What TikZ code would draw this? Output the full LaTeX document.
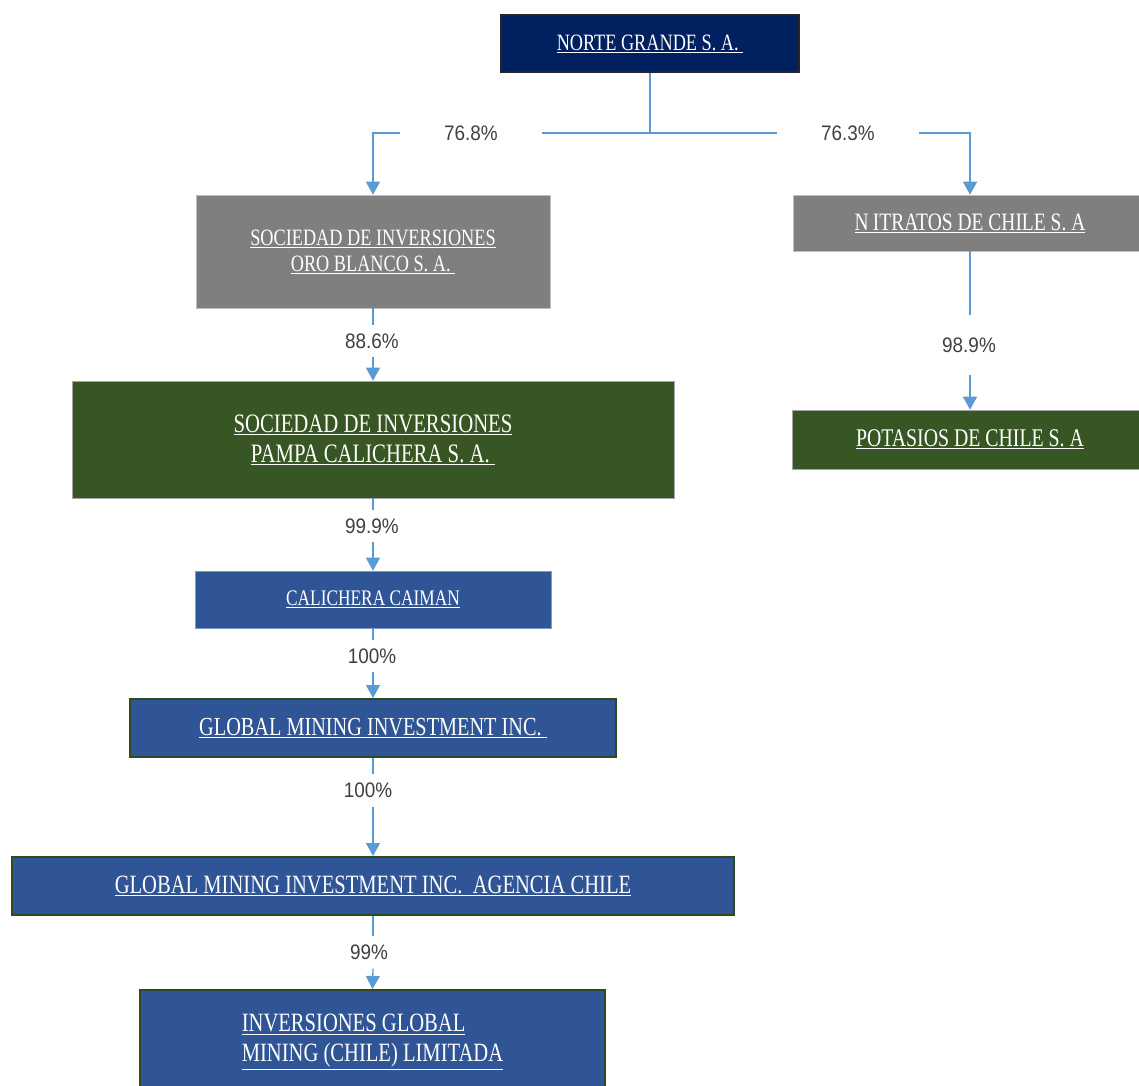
\documentclass[tikz,border=0pt]{standalone}
\usepackage{fontspec}
\usetikzlibrary{arrows.meta}
\newfontfamily\boxfont[FakeStretch=0.78]{Liberation Serif}
\newfontfamily\pctfont[FakeStretch=0.9]{Liberation Sans}
\definecolor{navybox}{HTML}{002060}
\definecolor{graybox}{HTML}{7F7F7F}
\definecolor{greenbox}{HTML}{375623}
\definecolor{bluebox}{HTML}{2F5597}
\definecolor{linkblue}{HTML}{5B9BD5}
\definecolor{pcttext}{HTML}{404040}
\definecolor{darkrim}{HTML}{2E4A1F}
\tikzset{
	firm/.style={rectangle, text=white, inner sep=0pt, align=center},
	pct/.style={font=\pctfont\fontsize{21}{21}\selectfont, text=pcttext, fill=white, inner xsep=44pt, inner ysep=0pt, minimum height=32pt},
	link/.style={draw=linkblue, line width=1.3pt},
	linkarrow/.style={link, -{Triangle[width=14pt,length=13pt]}},
}

\begin{document}
\begin{tikzpicture}[x=1pt, y=-1pt]
			%%%%% START %%%%%
			\useasboundingbox (0, 0) rectangle (1139, 1085);
			
			\node[firm, fill=navybox, draw=black!85, line width=2pt, minimum width=298pt, minimum height=57pt, font=\boxfont\fontsize{23.4}{26}\selectfont] (norte) at (650, 43.5) {\underline{NORTE GRANDE S. A.\ }};
			
			\node[firm, fill=graybox, draw=black!25, line width=0.6pt, minimum width=354pt, minimum height=113pt, font=\boxfont\fontsize{23.4}{26}\selectfont] (oro) at (373, 251.5) {\underline{SOCIEDAD DE INVERSIONES}\\\underline{ORO BLANCO S. A.\ }};
			\node[firm, fill=graybox, draw=black!25, line width=0.6pt, minimum width=354pt, minimum height=56pt, font=\boxfont\fontsize{25}{26}\selectfont] (nitratos) at (970, 223) {\underline{N\,ITRATOS DE CHILE S. A}};
			
			\node[firm, fill=greenbox, draw=black!35, line width=0.6pt, minimum width=602pt, minimum height=117pt, font=\boxfont\fontsize{26.6}{30}\selectfont] (pampa) at (373, 439.5) {\underline{SOCIEDAD DE INVERSIONES}\\\underline{PAMPA CALICHERA S. A.\ }};
			\node[firm, fill=greenbox, draw=black!35, line width=0.6pt, minimum width=356pt, minimum height=59pt, font=\boxfont\fontsize{25.4}{26}\selectfont] (potasios) at (970, 439.5) {\underline{POTASIOS DE CHILE S. A}};
			
			\node[firm, fill=bluebox, draw=bluebox!60!white, line width=0.6pt, minimum width=356pt, minimum height=57pt, font=\boxfont\fontsize{22.2}{26}\selectfont] (calichera) at (373, 599.5) {\underline{CALICHERA CAIMAN}};
			\node[firm, fill=bluebox, draw=darkrim, line width=2pt, minimum width=486pt, minimum height=58pt, font=\boxfont\fontsize{26}{26}\selectfont] (gmi) at (373, 728) {\underline{GLOBAL MINING INVESTMENT INC.\ }};
			\node[firm, fill=bluebox, draw=darkrim, line width=2pt, minimum width=722pt, minimum height=58pt, font=\boxfont\fontsize{26.4}{26}\selectfont] (agencia) at (373, 886) {\underline{GLOBAL MINING INVESTMENT INC.\ \ AGENCIA CHILE}};
			\node[firm, fill=bluebox, draw=darkrim, line width=2pt, minimum width=465pt, minimum height=104pt, align=left, font=\boxfont\fontsize{26.4}{30}\selectfont] (inversiones) at (372.5, 1042) {\underline{INVERSIONES GLOBAL}\\\underline{MINING (CHILE) LIMITADA}};
			
			% percentages
			\node[pct] (l768) at (471, 133) {76.8\%};
			\node[pct] (l763) at (848, 133) {76.3\%};
			\node[pct] (l886) at (372, 341) {88.6\%};
			\node[pct, minimum height=60pt] (l989) at (969, 345) {98.9\%};
			\node[pct] (l999) at (372, 526) {99.9\%};
			\node[pct] (l100a) at (372, 656) {100\%};
			\node[pct] (l100b) at (368, 790.5) {100\%};
			\node[pct] (l99) at (369, 952.5) {99\%};
			
			\coordinate (split) at (650, 133);
			
			\draw[link] (norte.south) -- (split);
			\draw[link] (split) -- (l768.east);
			\draw[linkarrow] (l768.west) -| (oro.north);
			\draw[link] (split) -- (l763.west);
			\draw[linkarrow] (l763.east) -| (nitratos.north);
			
			\draw[link] (oro.south) -- (oro.south |- l886.north);
			\draw[linkarrow] (oro.south |- l886.south) -- (pampa.north);
			\draw[link] (nitratos.south) -- (nitratos.south |- l989.north);
			\draw[linkarrow] (nitratos.south |- l989.south) -- (potasios.north);
			\draw[link] (pampa.south) -- (pampa.south |- l999.north);
			\draw[linkarrow] (pampa.south |- l999.south) -- (calichera.north);
			\draw[link] (calichera.south) -- (calichera.south |- l100a.north);
			\draw[linkarrow] (calichera.south |- l100a.south) -- (gmi.north);
			\draw[link] (gmi.south) -- (gmi.south |- l100b.north);
			\draw[linkarrow] (gmi.south |- l100b.south) -- (agencia.north);
			\draw[link] (agencia.south) -- (agencia.south |- l99.north);
			\draw[linkarrow] (agencia.south |- l99.south) -- (inversiones.north);
			
			%%%%% END %%%%%
\end{tikzpicture}
\end{document}
